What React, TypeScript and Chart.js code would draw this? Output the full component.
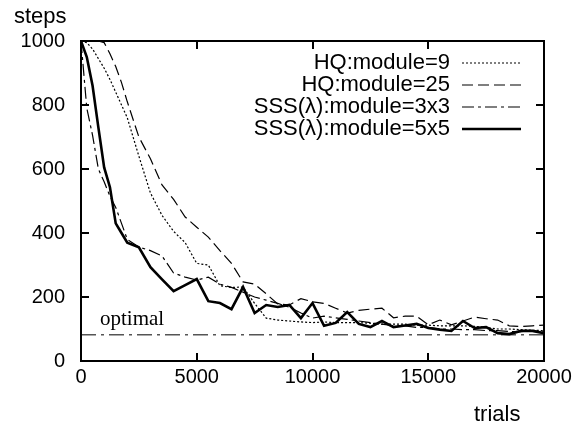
import React, { useEffect, useRef } from "react";
import { Chart, registerables } from "chart.js";

Chart.register(...registerables);

const trials = [0, 250, 500, 750, 1000, 1250, 1500, 1750, 2000, 2500, 3000, 3500, 4000, 4500, 5000, 5500, 6000, 6500, 7000, 7500, 8000, 8500, 9000, 9500, 10000, 10500, 11000, 11500, 12000, 12500, 13000, 13500, 14000, 14500, 15000, 15500, 16000, 16500, 17000, 17500, 18000, 18500, 19000, 19500, 20000];

const hqModule9 = [1000, 995, 975, 945, 915, 880, 840, 800, 760, 640, 525, 455, 405, 370, 305, 300, 235, 230, 231, 180, 134, 128, 125, 122, 120, 122, 120, 120, 120, 118, 115, 115, 115, 112, 112, 110, 110, 110, 108, 105, 100, 100, 98, 96, 95];

const hqModule25 = [1000, 1000, 1000, 1000, 995, 960, 920, 870, 810, 700, 632, 550, 505, 450, 418, 387, 345, 305, 247, 240, 210, 178, 175, 195, 185, 180, 165, 150, 158, 162, 165, 135, 140, 140, 113, 128, 113, 125, 137, 132, 128, 110, 108, 110, 112];

const sss3x3 = [1000, 790, 705, 600, 560, 515, 480, 430, 380, 356, 345, 328, 275, 262, 253, 262, 240, 230, 215, 200, 190, 180, 168, 150, 134, 140, 135, 130, 125, 120, 115, 110, 110, 105, 105, 100, 100, 98, 98, 95, 95, 92, 92, 95, 90];

const sss5x5 = [1000, 950, 860, 730, 605, 543, 430, 400, 370, 355, 293, 255, 218, 237, 256, 187, 181, 162, 231, 150, 175, 169, 175, 134, 181, 110, 119, 153, 116, 106, 125, 106, 111, 116, 103, 98, 94, 125, 103, 106, 87, 84, 94, 94, 87];

const optimalSteps = 82;
const optimalLabel = "optimal";

const seriesLabels = ["HQ:module=9", "HQ:module=25", "SSS(\u03bb):module=3x3", "SSS(\u03bb):module=5x5"];
const xTicks = [0, 5000, 10000, 15000, 20000];
const yTicks = [0, 200, 400, 600, 800, 1000];
const xTitle = "trials";
const yTitle = "steps";

const SANS = "'Liberation Sans', Arial, Helvetica, sans-serif";
const SERIF = "'Liberation Serif', 'Times New Roman', serif";

function pts(values: number[]) {
  return trials.map((t, i) => ({ x: t, y: values[i] }));
}

const framePlugin = {
  id: "frame",
  afterDatasetsDraw(chart: any) {
    const { ctx, chartArea: a, scales } = chart;
    const xs = scales.x;
    const ys = scales.y;
    ctx.save();
    // optimal label
    ctx.font = `21px ${SERIF}`;
    ctx.fillStyle = "#000";
    ctx.textAlign = "left";
    ctx.textBaseline = "alphabetic";
    ctx.fillText(optimalLabel, a.left + 19, ys.getPixelForValue(optimalSteps) - 10);

    // frame
    ctx.strokeStyle = "#000";
    ctx.lineWidth = 2;
    ctx.setLineDash([]);
    ctx.strokeRect(a.left, a.top, a.right - a.left, a.bottom - a.top);
    const tl = 8;
    ctx.beginPath();
    yTicks.forEach((v) => {
      const y = Math.round(ys.getPixelForValue(v));
      ctx.moveTo(a.left, y);
      ctx.lineTo(a.left + tl, y);
      ctx.moveTo(a.right, y);
      ctx.lineTo(a.right - tl, y);
    });
    xTicks.forEach((v) => {
      const x = Math.round(xs.getPixelForValue(v));
      ctx.moveTo(x, a.bottom);
      ctx.lineTo(x, a.bottom - tl);
      ctx.moveTo(x, a.top);
      ctx.lineTo(x, a.top + tl);
    });
    ctx.stroke();

    // axis titles
    ctx.font = `22px ${SANS}`;
    ctx.textBaseline = "middle";
    ctx.textAlign = "left";
    ctx.fillText(yTitle, 14, 17);
    ctx.fillText(xTitle, 474, 415);

    // legend
    const ds = chart.data.datasets.slice(0, 4);
    ds.forEach((d: any, i: number) => {
      const y = 63 + i * 22;
      ctx.textAlign = "right";
      ctx.fillStyle = "#000";
      ctx.fillText(d.label, 450, y);
      ctx.beginPath();
      ctx.setLineDash(d.borderDash || []);
      ctx.lineWidth = d.borderWidth;
      ctx.strokeStyle = d.borderColor;
      ctx.moveTo(462, y);
      ctx.lineTo(521, y);
      ctx.stroke();
    });
    ctx.restore();
  },
};

export default function App() {
  const ref = useRef<HTMLCanvasElement | null>(null);
  useEffect(() => {
    if (!ref.current) return;
    const common = { pointRadius: 0, tension: 0, fill: false, borderColor: "#000" };
    const chart = new Chart(ref.current, {
      type: "line",
      data: {
        datasets: [
          { ...common, label: seriesLabels[0], data: pts(hqModule9), borderWidth: 1.2, borderDash: [2, 2] },
          { ...common, label: seriesLabels[1], data: pts(hqModule25), borderWidth: 1.2, borderDash: [11, 5] },
          { ...common, label: seriesLabels[2], data: pts(sss3x3), borderWidth: 1.2, borderDash: [12, 4, 3, 4] },
          { ...common, label: seriesLabels[3], data: pts(sss5x5), borderWidth: 2.6 },
          {
            ...common,
            label: optimalLabel,
            data: [{ x: xTicks[0], y: optimalSteps }, { x: xTicks[xTicks.length - 1], y: optimalSteps }],
            borderColor: "#555",
            borderWidth: 1.6,
            borderDash: [15, 5, 3, 5],
          },
        ],
      },
      options: {
        animation: false,
        responsive: false,
        maintainAspectRatio: false,
        layout: { padding: { left: 0, right: 41, top: 41, bottom: 0 } },
        plugins: { legend: { display: false }, tooltip: { enabled: false } },
        scales: {
          x: {
            type: "linear",
            min: 0,
            max: 20000,
            afterBuildTicks: (s: any) => { s.ticks = xTicks.map((v) => ({ value: v })); },
            afterFit: (s: any) => { s.height = 64; },
            grid: { display: false, drawTicks: false },
            border: { display: false },
            ticks: { color: "#000", font: { family: SANS, size: 20 }, padding: 4, maxRotation: 0, autoSkip: false, callback: (v: any) => String(v) },
          },
          y: {
            type: "linear",
            min: 0,
            max: 1000,
            afterBuildTicks: (s: any) => { s.ticks = yTicks.map((v) => ({ value: v })); },
            afterFit: (s: any) => { s.width = 81; },
            grid: { display: false, drawTicks: false },
            border: { display: false },
            ticks: { color: "#000", font: { family: SANS, size: 20 }, padding: 16, callback: (v: any) => String(v) },
          },
        },
      },
      plugins: [framePlugin],
    });
    return () => chart.destroy();
  }, []);
  return (
    <div style={{ position: "fixed", left: 0, top: 0, width: 585, height: 425, background: "#fff" }}>
      <canvas ref={ref} width={585} height={425} style={{ width: 585, height: 425 }} />
    </div>
  );
}
